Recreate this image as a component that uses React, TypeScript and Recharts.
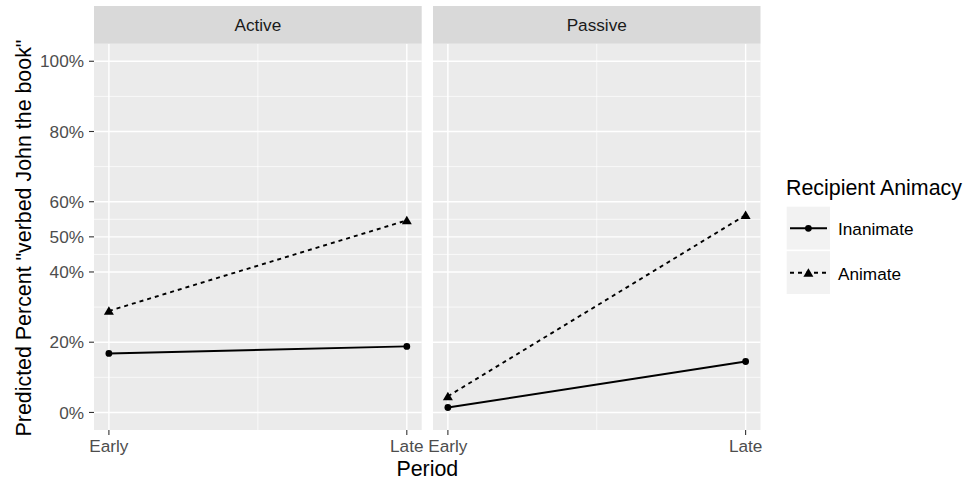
import React from 'react';
import { LineChart, Line, XAxis, YAxis, CartesianGrid } from 'recharts';

const periods = ['Early', 'Late'];
const facets = ['Active', 'Passive'];
const seriesNames = ['Inanimate', 'Animate'];
const activeInanimate = [16.8, 18.8];
const activeAnimate = [28.9, 54.7];
const passiveInanimate = [1.4, 14.5];
const passiveAnimate = [4.6, 56.2];
const yTicks = [0, 20, 40, 50, 60, 80, 100];
const yMinorTicks = [10, 30, 45, 55, 70, 90];
const xMinorTicks = [0.5];

const FONT = '"Liberation Sans", Arial, Helvetica, sans-serif';
const TICK_SIZE = 17.2;
const TITLE_SIZE = 21.4;

function buildRows(inan: number[], anim: number[]) {
  return periods.map((p, i) => ({ x: i, period: p, Inanimate: inan[i], Animate: anim[i] }));
}

const CircleDot = (props: any) => {
  const { cx, cy, index } = props;
  if (cx == null || cy == null) return null;
  return <circle key={`c-${index}`} cx={cx} cy={cy} r={3.4} fill="#000000" />;
};

const TriangleDot = (props: any) => {
  const { cx, cy, index } = props;
  if (cx == null || cy == null) return null;
  const pts = `${cx},${cy - 4.6} ${cx - 5},${cy + 3.9} ${cx + 5},${cy + 3.9}`;
  return <polygon key={`t-${index}`} points={pts} fill="#000000" />;
};

type PanelProps = {
  rows: any[];
  showY: boolean;
  width: number;
  margin: { top: number; right: number; bottom: number; left: number };
};

function Panel({ rows, showY, width, margin }: PanelProps) {
  return (
    <LineChart width={width} height={480} data={rows} margin={margin}>
      <CartesianGrid
        fill="#ebebeb"
        stroke="#ffffff"
        strokeWidth={0.7}
        horizontalValues={yMinorTicks}
        verticalValues={xMinorTicks}
      />
      <CartesianGrid
        stroke="#ffffff"
        strokeWidth={1.4}
        horizontalValues={yTicks}
        verticalValues={[0, 1]}
      />
      <XAxis
        type="number"
        dataKey="x"
        domain={[-0.05, 1.05]}
        ticks={[0, 1]}
        interval={0}
        tickFormatter={(v: number) => periods[v]}
        axisLine={false}
        tickLine={{ stroke: '#333333', strokeWidth: 1.1 }}
        tickSize={5}
        tickMargin={5}
        height={30}
        tick={{ fill: '#4d4d4d', fontSize: TICK_SIZE, fontFamily: FONT }}
      />
      <YAxis
        type="number"
        domain={[-5, 105]}
        ticks={yTicks}
        interval={0}
        hide={!showY}
        width={showY ? 60 : 0}
        tickFormatter={(v: number) => `${v}%`}
        axisLine={false}
        tickLine={{ stroke: '#333333', strokeWidth: 1.1 }}
        tickSize={5}
        tickMargin={5}
        tick={{ fill: '#4d4d4d', fontSize: TICK_SIZE, fontFamily: FONT }}
      />
      <Line
        type="linear"
        dataKey="Inanimate"
        stroke="#000000"
        strokeWidth={1.9}
        dot={CircleDot}
        activeDot={false}
        isAnimationActive={false}
      />
      <Line
        type="linear"
        dataKey="Animate"
        stroke="#000000"
        strokeWidth={1.9}
        strokeDasharray="4 4"
        dot={TriangleDot}
        activeDot={false}
        isAnimationActive={false}
      />
    </LineChart>
  );
}

export default function App() {
  const activeRows = buildRows(activeInanimate, activeAnimate);
  const passiveRows = buildRows(passiveInanimate, passiveAnimate);
  const strips = [
    { label: facets[0], x0: 94, x1: 421.7 },
    { label: facets[1], x0: 433, x1: 760.5 },
  ];
  const legendTop = 206.7;
  const keyH = 44.5;
  return (
    <div style={{ position: 'absolute', left: 0, top: 0, width: 968, height: 480, background: '#ffffff', fontFamily: FONT }}>
      <div style={{ position: 'absolute', left: 0, top: 0 }}>
        <Panel rows={activeRows} showY={true} width={430} margin={{ top: 43.7, right: 8.3, bottom: 20, left: 34 }} />
      </div>
      <div style={{ position: 'absolute', left: 425, top: 0 }}>
        <Panel rows={passiveRows} showY={false} width={345} margin={{ top: 43.7, right: 9.5, bottom: 20, left: 8 }} />
      </div>
      <svg width={968} height={480} style={{ position: 'absolute', left: 0, top: 0, pointerEvents: 'none' }}>
        {strips.map((s) => (
          <g key={s.label}>
            <rect x={s.x0} y={6} width={s.x1 - s.x0} height={37.7} fill="#d9d9d9" />
            <text x={(s.x0 + s.x1) / 2} y={31.3} textAnchor="middle" fontSize={TICK_SIZE} fill="#1a1a1a" fontFamily={FONT}>
              {s.label}
            </text>
          </g>
        ))}
        <text x={427.3} y={476} textAnchor="middle" fontSize={TITLE_SIZE} fill="#000000" fontFamily={FONT}>
          Period
        </text>
        <text
          x={31}
          y={238}
          textAnchor="middle"
          fontSize={TITLE_SIZE}
          fill="#000000"
          fontFamily={FONT}
          transform="rotate(-90 31 238)"
        >
          Predicted Percent "verbed John the book"
        </text>
        <text x={786} y={195.3} fontSize={TITLE_SIZE} fill="#000000" fontFamily={FONT}>
          Recipient Animacy
        </text>
        {seriesNames.map((name, i) => {
          const top = legendTop + i * keyH;
          const cy = top + 21.6;
          return (
            <g key={name}>
              <rect x={786.7} y={top} width={43.3} height={42.8} fill="#f2f2f2" />
              <line
                x1={790}
                x2={827}
                y1={cy}
                y2={cy}
                stroke="#000000"
                strokeWidth={1.9}
                strokeDasharray={i === 1 ? '4 4' : undefined}
              />
              {i === 0 ? (
                <circle cx={808.4} cy={cy} r={3.4} fill="#000000" />
              ) : (
                <polygon points={`${808.4},${cy - 4.6} ${803.4},${cy + 3.9} ${813.4},${cy + 3.9}`} fill="#000000" />
              )}
              <text x={838} y={cy + 6.8} fontSize={TICK_SIZE} fill="#000000" fontFamily={FONT}>
                {name}
              </text>
            </g>
          );
        })}
      </svg>
    </div>
  );
}
